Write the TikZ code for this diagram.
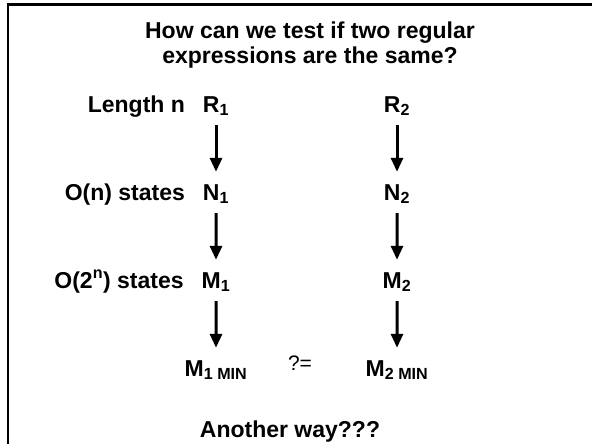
\documentclass[tikz,border=0pt]{standalone}
\usepackage{fontspec}
\setmainfont{Liberation Sans}
\usetikzlibrary{trees,positioning,arrows.meta}

\begin{document}
\begin{tikzpicture}[x=1pt, y=-1pt, level distance=95.5pt,
  font=\fontsize{23}{25}\selectfont\bfseries,
  state/.style={anchor=base, text height=18pt, text depth=3pt, inner ysep=10pt},
  every child node/.style={state},
  edge from parent/.style={draw, line width=3pt, -{Triangle[length=14pt,width=12pt]}}]
\useasboundingbox (0,0) rectangle (592,444);
\draw[line width=2.6pt] (8,450) -- (8,4.7) -- (600,4.7);

\node[align=center, anchor=north] (title) at (310,18)
  {How can we test if two regular\\expressions are the same?};

% left column
\node[state] (r1) at (216,112) {R\textsubscript{1}}
  child {node (n1) {N\textsubscript{1}}
    child {node (m1) {M\textsubscript{1}}
      child {node (m1min) {M\textsubscript{1 MIN}}}}};
% right column
\node[state] (r2) at (397,112) {R\textsubscript{2}}
  child {node (n2) {N\textsubscript{2}}
    child {node (m2) {M\textsubscript{2}}
      child {node (m2min) {M\textsubscript{2 MIN}}}}};

\node[base left=11pt of r1] (len) {Length n};
\node[base left=11pt of n1] (nsize) {O(n) states};
\node[base left=11pt of m1] (msize) {O(2\textsuperscript{n}) states};

\node[anchor=base, font=\fontsize{21}{24}\selectfont\mdseries] (eq) at (300,370) {?=};
\node[anchor=base] (other) at (290,437) {Another way???};
\end{tikzpicture}
\end{document}
